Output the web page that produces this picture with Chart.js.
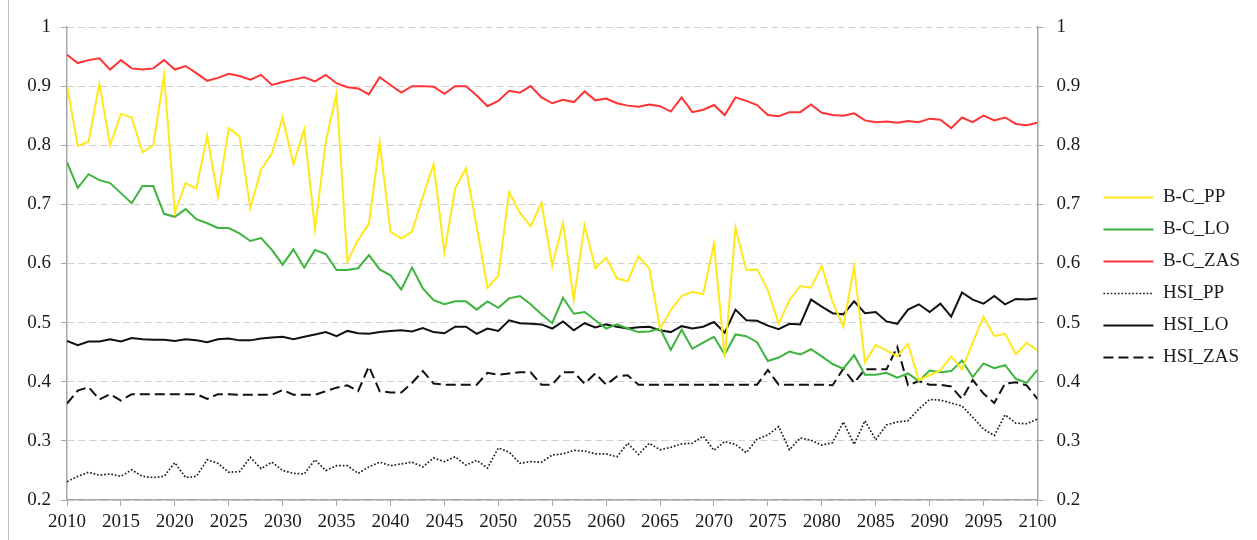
<!DOCTYPE html>
<html>
<head>
<meta charset="utf-8">
<style>
  html, body { margin: 0; padding: 0; background: #fff; }
  #wrap { width: 1257px; height: 540px; }
</style>
<script src="https://cdn.jsdelivr.net/npm/chart.js@4.4.0/dist/chart.umd.min.js"></script>
</head>
<body>
<div id="wrap"><canvas id="chart" width="1257" height="540"></canvas></div>
<script>
const years = [
  2010, 2011, 2012, 2013, 2014, 2015, 2016, 2017, 2018, 2019,
  2020, 2021, 2022, 2023, 2024, 2025, 2026, 2027, 2028, 2029,
  2030, 2031, 2032, 2033, 2034, 2035, 2036, 2037, 2038, 2039,
  2040, 2041, 2042, 2043, 2044, 2045, 2046, 2047, 2048, 2049,
  2050, 2051, 2052, 2053, 2054, 2055, 2056, 2057, 2058, 2059,
  2060, 2061, 2062, 2063, 2064, 2065, 2066, 2067, 2068, 2069,
  2070, 2071, 2072, 2073, 2074, 2075, 2076, 2077, 2078, 2079,
  2080, 2081, 2082, 2083, 2084, 2085, 2086, 2087, 2088, 2089,
  2090, 2091, 2092, 2093, 2094, 2095, 2096, 2097, 2098, 2099,
  2100
];

const bcPP = [
  0.902, 0.799, 0.806, 0.904, 0.800, 0.853, 0.847, 0.788, 0.800, 0.918,
  0.686, 0.736, 0.727, 0.816, 0.713, 0.829, 0.815, 0.694, 0.759, 0.786,
  0.847, 0.768, 0.827, 0.658, 0.806, 0.888, 0.603, 0.640, 0.667, 0.805,
  0.654, 0.642, 0.654, 0.713, 0.768, 0.618, 0.727, 0.761, 0.662, 0.559,
  0.579, 0.721, 0.686, 0.663, 0.703, 0.596, 0.668, 0.539, 0.665, 0.592,
  0.610, 0.575, 0.570, 0.612, 0.592, 0.490, 0.521, 0.545, 0.552, 0.548,
  0.633, 0.441, 0.661, 0.589, 0.590, 0.555, 0.498, 0.538, 0.562, 0.559,
  0.596, 0.535, 0.493, 0.595, 0.433, 0.462, 0.453, 0.443, 0.464, 0.403,
  0.411, 0.419, 0.443, 0.421, 0.466, 0.510, 0.477, 0.481, 0.447, 0.466,
  0.453
];

const bcLO = [
  0.771, 0.728, 0.751, 0.741, 0.736, 0.719, 0.702, 0.731, 0.731, 0.684,
  0.679, 0.692, 0.675, 0.668, 0.660, 0.660, 0.651, 0.638, 0.643, 0.623,
  0.598, 0.624, 0.593, 0.623, 0.616, 0.589, 0.589, 0.592, 0.614, 0.590,
  0.580, 0.556, 0.593, 0.558, 0.538, 0.531, 0.536, 0.536, 0.522, 0.536,
  0.525, 0.541, 0.545, 0.531, 0.514, 0.499, 0.542, 0.515, 0.518, 0.504,
  0.490, 0.497, 0.490, 0.484, 0.485, 0.490, 0.454, 0.488, 0.456, 0.466,
  0.476, 0.446, 0.480, 0.477, 0.467, 0.435, 0.441, 0.451, 0.446, 0.455,
  0.443, 0.430, 0.422, 0.445, 0.412, 0.412, 0.415, 0.407, 0.414, 0.401,
  0.419, 0.416, 0.418, 0.436, 0.408, 0.431, 0.423, 0.428, 0.405, 0.398,
  0.420
];

const bcZAS = [
  0.953, 0.939, 0.944, 0.947, 0.928, 0.944, 0.930, 0.928, 0.930, 0.944,
  0.928, 0.934, 0.922, 0.909, 0.914, 0.921, 0.917, 0.911, 0.919, 0.902,
  0.907, 0.911, 0.915, 0.908, 0.919, 0.905, 0.898, 0.896, 0.886, 0.915,
  0.902, 0.889, 0.900, 0.900, 0.899, 0.887, 0.900, 0.900, 0.884, 0.866,
  0.875, 0.892, 0.889, 0.900, 0.881, 0.871, 0.877, 0.873, 0.891, 0.876,
  0.879, 0.871, 0.867, 0.865, 0.869, 0.866, 0.857, 0.881, 0.856, 0.860,
  0.868, 0.851, 0.881, 0.875, 0.868, 0.851, 0.849, 0.856, 0.856, 0.869,
  0.855, 0.851, 0.850, 0.854, 0.842, 0.839, 0.840, 0.838, 0.841, 0.839,
  0.845, 0.843, 0.829, 0.847, 0.839, 0.850, 0.842, 0.847, 0.836, 0.834,
  0.838
];

const hsiPP = [
  0.231, 0.240, 0.247, 0.242, 0.244, 0.240, 0.251, 0.240, 0.238, 0.240,
  0.263, 0.238, 0.240, 0.268, 0.262, 0.247, 0.248, 0.272, 0.253, 0.264,
  0.250, 0.245, 0.244, 0.268, 0.250, 0.258, 0.258, 0.245, 0.256, 0.264,
  0.258, 0.261, 0.264, 0.256, 0.271, 0.265, 0.273, 0.259, 0.267, 0.254,
  0.288, 0.281, 0.262, 0.265, 0.264, 0.276, 0.278, 0.284, 0.283, 0.278,
  0.278, 0.273, 0.296, 0.277, 0.296, 0.285, 0.289, 0.295, 0.296, 0.308,
  0.284, 0.299, 0.294, 0.280, 0.303, 0.310, 0.324, 0.285, 0.305, 0.301,
  0.293, 0.297, 0.332, 0.294, 0.334, 0.302, 0.327, 0.332, 0.334, 0.354,
  0.370, 0.369, 0.364, 0.359, 0.340, 0.320, 0.309, 0.344, 0.330, 0.329,
  0.337
];

const hsiLO = [
  0.469, 0.462, 0.468, 0.468, 0.472, 0.468, 0.474, 0.472, 0.471, 0.471,
  0.469, 0.472, 0.470, 0.467, 0.472, 0.473, 0.470, 0.470, 0.473, 0.475,
  0.476, 0.472, 0.476, 0.480, 0.484, 0.477, 0.486, 0.482, 0.481, 0.484,
  0.486, 0.487, 0.485, 0.491, 0.484, 0.482, 0.493, 0.493, 0.481, 0.490,
  0.486, 0.504, 0.499, 0.498, 0.497, 0.490, 0.502, 0.487, 0.499, 0.492,
  0.497, 0.493, 0.490, 0.492, 0.493, 0.487, 0.484, 0.494, 0.490, 0.493,
  0.501, 0.483, 0.522, 0.504, 0.503, 0.495, 0.489, 0.498, 0.497, 0.539,
  0.527, 0.516, 0.514, 0.536, 0.516, 0.518, 0.502, 0.498, 0.522, 0.531,
  0.518, 0.532, 0.510, 0.551, 0.539, 0.532, 0.545, 0.531, 0.540, 0.539,
  0.541
];

const hsiZAS = [
  0.363, 0.385, 0.391, 0.370, 0.379, 0.368, 0.379, 0.379, 0.379, 0.379,
  0.379, 0.379, 0.379, 0.371, 0.379, 0.379, 0.378, 0.378, 0.378, 0.378,
  0.386, 0.378, 0.378, 0.378, 0.384, 0.390, 0.394, 0.384, 0.426, 0.384,
  0.382, 0.382, 0.398, 0.418, 0.397, 0.395, 0.395, 0.395, 0.395, 0.415,
  0.412, 0.414, 0.416, 0.416, 0.395, 0.395, 0.416, 0.416, 0.397, 0.414,
  0.395, 0.409, 0.411, 0.395, 0.395, 0.395, 0.395, 0.395, 0.395, 0.395,
  0.395, 0.395, 0.395, 0.395, 0.395, 0.420, 0.395, 0.395, 0.395, 0.395,
  0.395, 0.394, 0.422, 0.398, 0.421, 0.421, 0.421, 0.459, 0.394, 0.401,
  0.395, 0.395, 0.392, 0.371, 0.403, 0.380, 0.364, 0.397, 0.399, 0.394,
  0.371
];

const yTicks = ['1', '0.9', '0.8', '0.7', '0.6', '0.5', '0.4', '0.3', '0.2'];

const axisGray = '#a6a6a6';
const gridGray = '#d0d0d0';
const textColor = '#1a1a1a';

Chart.defaults.font.family = "'Liberation Serif', 'Times New Roman', serif";
Chart.defaults.font.size = 19;
Chart.defaults.color = textColor;

function points(values) {
  return values.map((v, i) => ({ x: years[i], y: v }));
}

function series(label, values, color, width, dash) {
  return {
    label: label,
    data: points(values),
    borderColor: color,
    backgroundColor: color,
    borderWidth: width,
    borderDash: dash,
    pointRadius: 0,
    pointHoverRadius: 0,
    fill: false,
    tension: 0
  };
}

function yLabel(value) {
  const s = Math.abs(value - 1) < 1e-6 ? '1' : value.toFixed(1);
  return yTicks.includes(s) ? s : '';
}

// thin frame line on the left like the original chart box
const frame = {
  id: 'frame',
  beforeDraw(chart) {
    const ctx = chart.ctx;
    ctx.save();
    ctx.strokeStyle = '#bdbdbd';
    ctx.lineWidth = 1;
    ctx.beginPath();
    ctx.moveTo(8.5, 0);
    ctx.lineTo(8.5, chart.height);
    ctx.stroke();
    ctx.restore();
  }
};

new Chart(document.getElementById('chart'), {
  type: 'line',
  data: {
    datasets: [
      series('B-C_PP', bcPP, '#ffe81c', 2, []),
      series('B-C_LO', bcLO, '#3db43d', 2, []),
      series('B-C_ZAS', bcZAS, '#ff3333', 2, []),
      series('HSI_PP', hsiPP, '#1e1e1e', 1.7, [1.7, 1.9]),
      series('HSI_LO', hsiLO, '#111111', 2, []),
      series('HSI_ZAS', hsiZAS, '#111111', 2, [10, 5])
    ]
  },
  plugins: [frame],
  options: {
    responsive: false,
    animation: false,
    layout: {
      padding: { top: 27, right: 7, bottom: 12, left: 0 }
    },
    plugins: {
      legend: {
        position: 'right',
        align: 'center',
        labels: {
          usePointStyle: true,
          pointStyle: 'line',
          pointStyleWidth: 50,
          padding: 13,
          color: textColor,
          font: { size: 19 },
          generateLabels: chart => {
            const items = Chart.defaults.plugins.legend.labels.generateLabels(chart);
            items.forEach(item => {
              const ds = chart.data.datasets[item.datasetIndex];
              item.lineDash = ds.borderDash;
              item.lineWidth = ds.borderWidth;
              item.strokeStyle = ds.borderColor;
            });
            return items;
          }
        }
      },
      tooltip: { enabled: false }
    },
    scales: {
      x: {
        type: 'linear',
        position: 'bottom',
        min: 2010,
        max: 2100,
        afterFit: scale => { scale.height = 28; },
        ticks: {
          stepSize: 5,
          padding: 5,
          maxRotation: 0,
          autoSkip: false,
          callback: value => String(value)
        },
        grid: {
          drawOnChartArea: false,
          drawTicks: true,
          tickLength: 6,
          tickColor: axisGray,
          color: axisGray
        },
        border: { color: axisGray, width: 1.5 }
      },
      y: {
        position: 'left',
        min: 0.2,
        max: 1,
        afterFit: scale => { scale.width = 67; },
        ticks: {
          stepSize: 0.1,
          padding: 10,
          callback: yLabel
        },
        grid: {
          color: gridGray,
          lineWidth: 1,
          tickLength: 6,
          tickColor: axisGray
        },
        border: { color: axisGray, width: 1.5, dash: [7, 4] }
      },
      y2: {
        position: 'right',
        min: 0.2,
        max: 1,
        afterFit: scale => { scale.width = 53; },
        ticks: {
          stepSize: 0.1,
          padding: 13,
          callback: yLabel
        },
        grid: {
          drawOnChartArea: false,
          tickLength: 6,
          tickColor: axisGray,
          color: axisGray
        },
        border: { color: axisGray, width: 1.5 }
      }
    }
  }
});
</script>
</body>
</html>
